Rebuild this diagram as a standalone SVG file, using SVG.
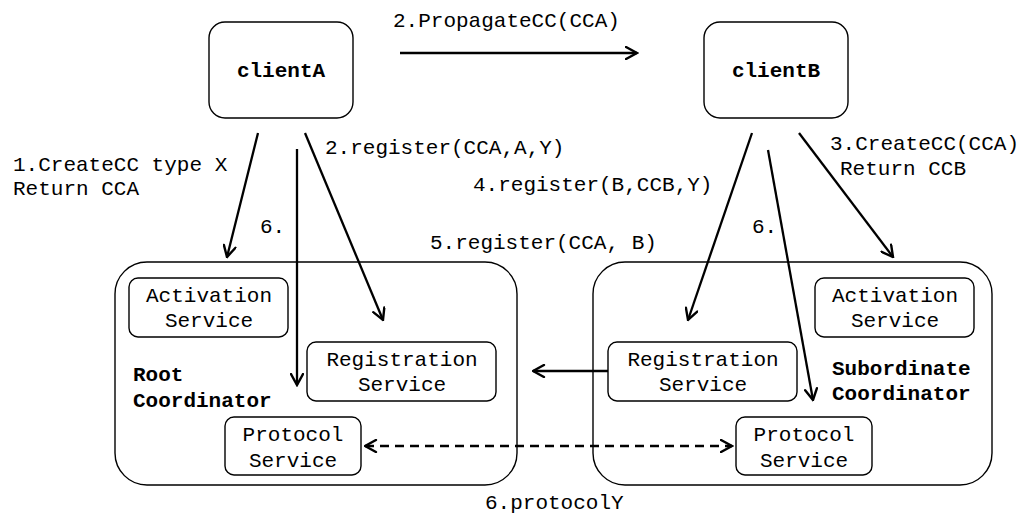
<svg xmlns="http://www.w3.org/2000/svg" width="1017" height="515" viewBox="0 0 1017 515">
  <defs>
    <marker id="arrow" viewBox="0 0 14 14" refX="12.5" refY="7" markerWidth="14" markerHeight="14" markerUnits="userSpaceOnUse" orient="auto-start-reverse">
      <path d="M1.5,1 L12.5,7 L1.5,13" fill="none" stroke="#000" stroke-width="2.4" stroke-linecap="round" stroke-linejoin="miter"/>
    </marker>
    <style>
      .box { fill: #fff; stroke: #000; stroke-width: 1.4; }
      .txt { font-family: "Liberation Mono", "Courier New", monospace; font-size: 21px; fill: #000; }
      .bold { font-weight: bold; }
      .mid { text-anchor: middle; }
      .link { fill: none; stroke: #000; stroke-width: 2.3; marker-end: url(#arrow); }
      .dashed { stroke-dasharray: 9 6; marker-start: url(#arrow); }
    </style>
  </defs>

  <!-- coordinators -->
  <g id="root-coordinator">
    <rect class="box" x="115" y="262" width="402" height="223" rx="32"/>
    <text class="txt bold" x="133" y="381">Root</text>
    <text class="txt bold" x="133" y="407">Coordinator</text>
  </g>
  <g id="subordinate-coordinator">
    <rect class="box" x="593" y="262" width="399" height="223" rx="32"/>
    <text class="txt bold" x="832" y="375">Subordinate</text>
    <text class="txt bold" x="832" y="400">Coordinator</text>
  </g>

  <!-- clients -->
  <g id="clientA">
    <rect class="box" x="209" y="22" width="144" height="96" rx="16"/>
    <text class="txt bold mid" x="281" y="77">clientA</text>
  </g>
  <g id="clientB">
    <rect class="box" x="704" y="22" width="144" height="96" rx="16"/>
    <text class="txt bold mid" x="776" y="77">clientB</text>
  </g>

  <!-- services of the root coordinator -->
  <g id="root-activation">
    <rect class="box" x="129" y="278" width="159" height="59" rx="9"/>
    <text class="txt mid" x="209" y="302">Activation</text>
    <text class="txt mid" x="209" y="327">Service</text>
  </g>
  <g id="root-registration">
    <rect class="box" x="307" y="342" width="189" height="59" rx="9"/>
    <text class="txt mid" x="402" y="366">Registration</text>
    <text class="txt mid" x="402" y="391">Service</text>
  </g>
  <g id="root-protocol">
    <rect class="box" x="225" y="417" width="136" height="58" rx="9"/>
    <text class="txt mid" x="293" y="441">Protocol</text>
    <text class="txt mid" x="293" y="467">Service</text>
  </g>

  <!-- services of the subordinate coordinator -->
  <g id="sub-activation">
    <rect class="box" x="815" y="278" width="159" height="59" rx="9"/>
    <text class="txt mid" x="895" y="302">Activation</text>
    <text class="txt mid" x="895" y="327">Service</text>
  </g>
  <g id="sub-registration">
    <rect class="box" x="608" y="342" width="189" height="59" rx="9"/>
    <text class="txt mid" x="703" y="366">Registration</text>
    <text class="txt mid" x="703" y="391">Service</text>
  </g>
  <g id="sub-protocol">
    <rect class="box" x="736" y="417" width="136" height="58" rx="9"/>
    <text class="txt mid" x="804" y="441">Protocol</text>
    <text class="txt mid" x="804" y="467">Service</text>
  </g>

  <!-- message flows -->
  <g id="connectors">
    <line class="link" x1="400" y1="53" x2="637" y2="53"/>
    <line class="link" x1="258" y1="133" x2="227" y2="257"/>
    <line class="link" x1="297" y1="149" x2="297" y2="385"/>
    <line class="link" x1="305" y1="133" x2="383" y2="320"/>
    <line class="link" x1="752" y1="133" x2="688" y2="320"/>
    <line class="link" x1="768" y1="150" x2="813" y2="400"/>
    <line class="link" x1="799" y1="133" x2="893" y2="257"/>
    <line class="link" x1="608" y1="371" x2="533" y2="371"/>
    <line class="link dashed" x1="365" y1="446" x2="732" y2="446"/>
  </g>

  <!-- message labels -->
  <g id="labels">
    <text class="txt" x="393" y="27">2.PropagateCC(CCA)</text>
    <text class="txt" x="13" y="171">1.CreateCC type X</text>
    <text class="txt" x="13" y="195">Return CCA</text>
    <text class="txt" x="325" y="154">2.register(CCA,A,Y)</text>
    <text class="txt" x="473" y="191">4.register(B,CCB,Y)</text>
    <text class="txt" x="430" y="249">5.register(CCA, B)</text>
    <text class="txt" x="260" y="233">6.</text>
    <text class="txt" x="752" y="233">6.</text>
    <text class="txt" x="830" y="150">3.CreateCC(CCA)</text>
    <text class="txt" x="840" y="175">Return CCB</text>
    <text class="txt" x="485" y="509">6.protocolY</text>
  </g>
</svg>
